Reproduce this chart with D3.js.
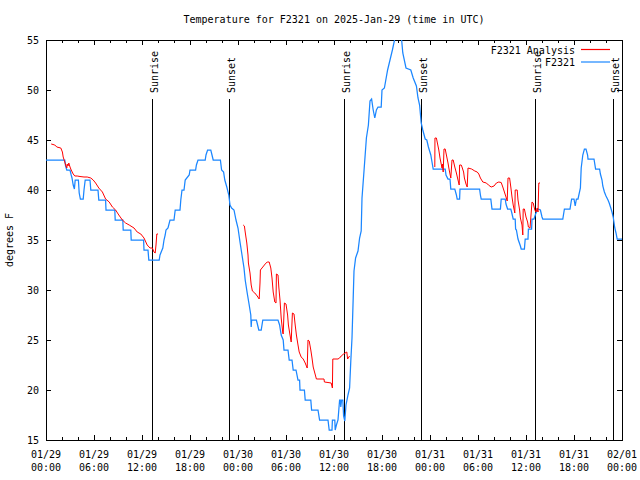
<!DOCTYPE html>
<html><head><meta charset="utf-8">
<script src="https://cdn.jsdelivr.net/npm/d3@7"></script>
<style>
body{margin:0;background:#fff}
svg{display:block}
text{font-family:"DejaVu Sans Mono",monospace;font-size:10px;fill:#000}
</style></head><body>
<svg id="c" width="640" height="480"></svg>
<script>
const titleText = "Temperature for F2321 on 2025-Jan-29 (time in UTC)";
const yLabelText = "degrees F";
const seriesNames = ["F2321 Analysis", "F2321"];
const seriesColors = ["#ff0000", "#1a86ff"];
const xTickHours = [0,6,12,18,24,30,36,42,48,54,60,66,72];
const xTickDates = ["01/29","01/29","01/29","01/29","01/30","01/30","01/30","01/30","01/31","01/31","01/31","01/31","02/01"];
const xTickTimes = ["00:00","06:00","12:00","18:00","00:00","06:00","12:00","18:00","00:00","06:00","12:00","18:00","00:00"];
const xMinorHours = d3.range(0, 73, 2);
const yTicks = [15,20,25,30,35,40,45,50,55];
const sunriseHours = [13.25, 37.2, 61.15];
const sunsetHours = [22.9, 46.9, 70.9];

// observed temperature, [hour since 01/29 00:00 UTC, degrees F]
const observed = [
[0,43],[2.35,43],[2.45,42.4],[2.6,42],[3.0,42],[3.15,41.5],[3.25,41.2],[3.4,40.5],[3.55,40.1],[3.65,41],[4.05,41],[4.15,39.7],[4.3,39.1],[4.65,39.1],[4.75,40],[4.9,41],[5.5,41],[5.6,40],[6.5,40],[6.6,39],[7.45,39],[7.5,38],[8.6,38],[8.65,37],[9.6,37],[9.65,36],[10.6,36],[10.65,35],[12.2,35],[12.25,34],[12.75,34],[12.85,33],[14.15,33],[14.25,33.5],[14.5,34],[14.6,34.2],[14.75,35],[14.9,35.5],[15.0,36],[15.25,36.2],[15.5,37],[16.0,37],[16.15,38],[16.75,38],[16.85,39],[17.0,40],[17.25,40],[17.4,41],[17.9,41.5],[18.0,42],[18.7,42],[18.8,42.5],[19.0,43],[19.9,43],[20.0,43.5],[20.2,44],[20.6,44],[20.75,43.5],[20.9,43],[21.8,43],[21.95,42],[22.2,41.8],[22.35,41],[22.6,40.3],[22.85,39.5],[23.0,38.5],[23.2,38.2],[23.5,38],[23.75,37],[24.0,36.2],[24.25,34.8],[24.5,33.5],[24.75,32.2],[24.9,31],[25.15,29.7],[25.4,28.5],[25.6,27.5],[25.65,26.3],[25.7,27],[26.3,27],[26.45,26.5],[26.6,26],[26.9,26],[27.1,27],[29.0,27],[29.2,26.5],[29.4,25.5],[29.65,25],[29.75,24],[30.25,24],[30.4,23],[30.75,23],[30.9,22],[31.25,22],[31.5,21],[31.7,21],[31.75,20],[32.3,20],[32.4,19],[33.1,19],[33.2,18],[34.0,18],[34.2,17],[35.25,17],[35.4,16],[35.75,16],[35.8,17],[36.1,17],[36.15,16],[36.3,16.5],[36.5,17],[36.6,18],[36.7,19],[36.8,19],[36.85,18.3],[36.95,19],[37.1,19],[37.2,17.4],[37.35,16.9],[37.5,18.5],[37.75,19.5],[37.95,20.2],[38.1,22.9],[38.25,25.2],[38.4,29.2],[38.5,31.9],[38.7,33.2],[39.0,33.9],[39.2,35.2],[39.4,35.9],[39.5,39.2],[39.75,41.9],[40.05,45.2],[40.3,46.5],[40.5,48.9],[40.7,49.1],[40.9,48],[41.1,47.2],[41.3,48],[41.5,48.3],[41.9,48.3],[42.0,50],[42.3,50.2],[42.7,52],[43.0,53],[43.3,54],[43.7,55.5],[44.0,56],[44.4,55.5],[44.6,53.7],[45.0,52.2],[45.6,52],[45.9,51.2],[46.3,50.4],[46.5,49.2],[46.7,48.5],[46.9,46.7],[47.1,46],[47.4,45.1],[47.6,45],[47.8,44.3],[48.1,43.5],[48.25,42.8],[48.4,42.1],[49.9,42.1],[50.0,41.5],[50.25,41.1],[50.5,41.1],[50.6,40.1],[51.1,40.1],[51.3,39.5],[51.4,39.1],[51.7,39.1],[51.75,40.1],[54.2,40.1],[54.3,39.5],[54.4,39.1],[55.6,39.1],[55.75,38.1],[56.8,38.1],[56.9,39.1],[57.4,39.1],[57.5,38.6],[57.7,38.1],[58.1,38.1],[58.2,37.8],[58.4,37.1],[58.65,37.1],[58.7,36.1],[58.8,36],[59.0,35.1],[59.3,34.4],[59.4,34.1],[59.8,34.1],[59.9,35.1],[60.25,35.1],[60.3,36.1],[60.7,36.1],[60.75,37.1],[61.0,37.1],[61.2,37.6],[61.5,38.1],[61.8,38],[62.0,37.3],[62.1,37.1],[64.6,37.1],[64.8,38.1],[65.5,38.1],[65.7,39.1],[66.0,39.1],[66.15,38.4],[66.3,39.1],[66.5,39.1],[66.8,40.2],[66.9,42.2],[67.1,43.5],[67.3,44.1],[67.5,44.1],[67.7,43.5],[67.75,43.1],[68.5,43.1],[68.7,42.1],[69.2,42.1],[69.3,41.6],[69.5,41],[69.6,40.4],[69.8,39.8],[70.0,39.4],[70.25,39],[70.4,38.7],[70.6,38.2],[70.75,37.8],[70.9,37.3],[71.1,36.2],[71.25,35.7],[71.4,35.1],[72,35.1]
];

// analysis temperature segments
const analysis1 = [
[0.65,44.6],[1.1,44.5],[1.35,44.3],[1.85,44.2],[2.05,43.8],[2.15,43.3],[2.35,42.8],[2.45,42.5],[2.6,42.2],[2.65,42.6],[2.75,42.4],[2.85,42.7],[3.0,42.3],[3.15,42],[3.4,41.6],[3.6,41.4],[3.9,41.4],[4.25,41.35],[4.75,41.3],[5.15,41.3],[5.6,41.2],[5.9,41],[6.2,40.7],[6.6,40.2],[7.05,39.8],[7.45,39.1],[7.9,38.8],[8.3,38.3],[8.7,38],[9.1,37.5],[9.55,37],[9.95,36.7],[10.4,36.5],[11.0,36.2],[11.4,35.8],[11.85,35.6],[12.25,35.2],[12.65,34.5],[13.0,34.2],[13.3,34.2],[13.5,33.8],[13.65,33.7],[13.75,34.5],[13.85,35.6],[14.0,35.6]
];
const analysis2 = [
[24.65,36.5],[24.8,36.4],[24.9,35.8],[25.1,34.7],[25.25,33.5],[25.3,32.7],[25.5,31.7],[25.65,30.5],[25.8,29.9],[26.1,29.7],[26.4,29.4],[26.65,29.1],[26.75,30.7],[26.8,32],[27.1,32.3],[27.4,32.6],[27.65,32.8],[27.9,32.8],[28.1,32.2],[28.25,31.2],[28.4,29.8],[28.6,28.8],[28.75,28.7],[28.8,31.6],[29.0,31.5],[29.1,30.3],[29.25,29],[29.4,27.2],[29.6,25.7],[29.65,25.6],[29.8,28.7],[30.0,28.6],[30.2,27.5],[30.3,26.5],[30.5,25.5],[30.65,24.8],[30.8,27.7],[31.0,27.6],[31.15,26.5],[31.3,25.5],[31.5,24.5],[31.65,23.8],[31.9,23.3],[32.15,23.1],[32.4,22.7],[32.65,22.2],[32.75,25],[32.9,24.9],[33.1,24],[33.25,23.2],[33.4,22.3],[33.6,21.7],[33.8,21.1],[34.75,21.1],[34.8,20.8],[35.25,20.75],[35.65,20.7],[35.8,20.2],[35.85,23.1],[36.5,23.1],[36.7,23.2],[36.9,23.4],[37.2,23.6],[37.6,23.8],[37.7,23.1],[37.95,23.4]
];
const analysis3 = [
[48.6,42.3],[48.62,45.2],[48.8,45.2],[48.9,44.8],[49.1,44],[49.25,43.2],[49.4,42.6],[49.5,42.2],[49.55,42.6],[49.65,41.8],[49.75,44.1],[49.9,44.1],[50.05,43.5],[50.25,42.7],[50.4,42],[50.6,41.2],[50.75,43],[50.9,43],[51.1,42.3],[51.3,41.7],[51.5,41],[51.65,40.5],[51.7,42.5],[51.9,42.5],[52.0,42.3],[52.2,41.8],[52.3,41.2],[52.5,40.6],[52.65,40.3],[52.75,42.2],[53.2,42.1],[53.6,41.9],[53.9,41.8],[54.1,41.6],[54.3,41.2],[54.6,40.8],[55.05,40.7],[55.3,40.5],[55.65,40.3],[56.0,40.4],[56.3,40.7],[56.6,40.8],[56.9,40.75],[57.1,40.3],[57.3,39.8],[57.5,39.3],[57.65,38.9],[57.75,41.2],[57.95,41.2],[58.1,40.3],[58.25,39.3],[58.4,38.5],[58.6,37.7],[58.65,40],[58.9,40],[59.0,39],[59.2,38],[59.3,37.2],[59.5,36.5],[59.6,35.5],[59.65,38.1],[59.8,38.1],[60.0,37.3],[60.2,36.8],[60.3,36.3],[60.5,36.2],[60.75,38.8],[60.9,38.7],[61.1,38],[61.25,37.8],[61.4,38.2],[61.5,37.8],[61.6,40.7],[61.75,40.7]
];

const L = 46, R = 622, T = 40, B = 440;
const svg = d3.select("#c");
const x = d3.scaleLinear().domain([0, 72]).range([L, R]);
const y = d3.scaleLinear().domain([15, 55]).range([B, T]);

svg.append("defs").append("clipPath").attr("id","plotclip")
  .append("rect").attr("x", L).attr("y", T).attr("width", R - L).attr("height", B - T);

// title
svg.append("text").attr("x", (L + R) / 2).attr("y", 23).attr("text-anchor","middle").text(titleText);
// y label
svg.append("text").attr("transform","translate(13,240) rotate(-90)").attr("text-anchor","middle").text(yLabelText);

// axes (ticks inward)
function styleAxis(g){ g.select(".domain").remove(); g.selectAll(".tick line").attr("stroke","#000").attr("shape-rendering","crispEdges"); }
svg.append("g").attr("transform",`translate(0,${B})`)
  .call(d3.axisBottom(x).tickValues(xMinorHours).tickSize(-3).tickFormat("")).call(styleAxis);
svg.append("g").attr("transform",`translate(0,${T})`)
  .call(d3.axisTop(x).tickValues(xMinorHours).tickSize(-3).tickFormat("")).call(styleAxis);
svg.append("g").attr("transform",`translate(0,${B})`)
  .call(d3.axisBottom(x).tickValues(xTickHours).tickSize(-5).tickFormat("")).call(styleAxis);
svg.append("g").attr("transform",`translate(0,${T})`)
  .call(d3.axisTop(x).tickValues(xTickHours).tickSize(-5).tickFormat("")).call(styleAxis);
const yl = svg.append("g").attr("transform",`translate(${L},0)`)
  .call(d3.axisLeft(y).tickValues(yTicks).tickSize(-5).tickPadding(7)).call(styleAxis);
yl.selectAll("text").attr("fill","#000").style("font-family",'"DejaVu Sans Mono",monospace').style("font-size","10px");
svg.append("g").attr("transform",`translate(${R},0)`)
  .call(d3.axisRight(y).tickValues(yTicks).tickSize(-5).tickFormat("")).call(styleAxis);

// x tick labels, two lines
const xl = svg.append("g").selectAll("text").data(xTickHours).join("text")
  .attr("text-anchor","middle");
xl.append("tspan").attr("x", d => x(d)).attr("y", 457.5).text((d,i) => xTickDates[i]);
xl.append("tspan").attr("x", d => x(d)).attr("y", 470.5).text((d,i) => xTickTimes[i]);

// border
svg.append("rect").attr("x", L + 0.5).attr("y", T + 0.5).attr("width", R - L).attr("height", B - T)
  .attr("fill","none").attr("stroke","#000").attr("shape-rendering","crispEdges");

// sunrise / sunset markers
const sunData = sunriseHours.map(h => ({h, label:"Sunrise"})).concat(sunsetHours.map(h => ({h, label:"Sunset"})));
const sg = svg.append("g");
sg.selectAll("line").data(sunData).join("line")
  .attr("x1", d => Math.round(x(d.h)) + 0.5).attr("x2", d => Math.round(x(d.h)) + 0.5)
  .attr("y1", 99).attr("y2", B).attr("stroke","#000").attr("stroke-width",1)
  .attr("shape-rendering","crispEdges");
sg.selectAll("text").data(sunData).join("text")
  .attr("transform", d => `translate(${Math.round(x(d.h)) + 5.5},93) rotate(-90)`)
  .attr("text-anchor","start").text(d => d.label);

// data lines
const line = d3.line().x(d => x(d[0])).y(d => y(d[1]));
const dg = svg.append("g").attr("clip-path","url(#plotclip)");
dg.append("path").datum(observed).attr("d", line).attr("fill","none")
  .attr("stroke", seriesColors[1]).attr("stroke-width",1.25).attr("stroke-linejoin","miter");
[analysis1, analysis2, analysis3].forEach(seg => {
  dg.append("path").datum(seg).attr("d", line).attr("fill","none")
    .attr("stroke", seriesColors[0]).attr("stroke-width",1);
});

// legend
const legRows = [{name: seriesNames[0], color: seriesColors[0], ty: 53.5, ly: 49.5},
                 {name: seriesNames[1], color: seriesColors[1], ty: 66, ly: 62}];
const lg = svg.append("g");
lg.selectAll("text").data(legRows).join("text")
  .attr("x", 575).attr("y", d => d.ty).attr("text-anchor","end").text(d => d.name);
lg.selectAll("line").data(legRows).join("line")
  .attr("x1", 581).attr("x2", 610).attr("y1", d => d.ly).attr("y2", d => d.ly)
  .attr("stroke", d => d.color).attr("stroke-width", 1.2);
</script>
</body></html>
